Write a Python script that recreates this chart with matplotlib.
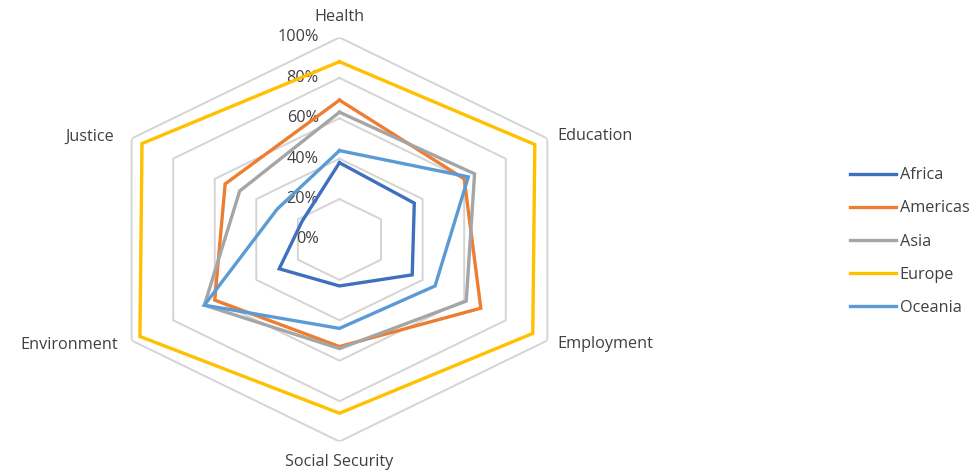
import matplotlib.pyplot as plt
import numpy as np

# categories clockwise from the top
categories = ['Health', 'Education', 'Employment', 'Social Security', 'Environment', 'Justice']
ring_vals = [0, 20, 40, 60, 80, 100]
ring_labels = ['0%', '20%', '40%', '60%', '80%', '100%']

africa = [38, 36, 35, 23, 29, 18]
americas = [69, 60, 68, 53, 60, 55]
asia = [63, 65, 61, 54, 65, 48]
europe = [88, 94, 93, 86, 96, 95]
oceania = [44, 62, 46, 44, 65, 30]

series = ['Africa', 'Americas', 'Asia', 'Europe', 'Oceania']
colors = ['#3F6FBF', '#ED7D31', '#A5A5A5', '#FFC000', '#5B9BD5']

plt.rcParams['font.family'] = ['Open Sans', 'DejaVu Sans']
txt_col = '#404040'
fs = 11.7

fig = plt.figure(figsize=(9.79, 4.72), dpi=100)
ax = fig.add_axes([0.1016, 0.0646, 0.4903, 0.856], projection='polar')
ax.set_aspect('auto')
ax.set_theta_zero_location('N')
ax.set_theta_direction(-1)
ax.grid(False)
ax.spines['polar'].set_visible(False)
ax.patch.set_visible(False)
ax.set_xticks([])
ax.set_yticks([])
ax.set_ylim(0, 100)

angles = np.linspace(0, 2 * np.pi, len(categories), endpoint=False)
closed = np.append(angles, angles[0])

# hexagon grid
for r in ring_vals[1:]:
    ax.plot(closed, [r] * len(closed), color='#D4D4D4', lw=1.4, zorder=1)

for name, vals, col in zip(series, [africa, americas, asia, europe, oceania], colors):
    ax.plot(closed, vals + vals[:1], color=col, lw=2.4, label=name,
            solid_joinstyle='miter', zorder=3)

# value labels left of the top spoke
for r, lbl in zip(ring_vals, ring_labels):
    ax.annotate(lbl, xy=(0, r), xytext=(-15, 0), textcoords='offset points',
                ha='right', va='center', fontsize=fs, color=txt_col, zorder=2)

# category labels
offs = [(0, 15, 'center'), (7, 2, 'left'), (7, -2.7, 'left'),
        (0, -15, 'center'), (-10, -3, 'right'), (-12.5, 1.5, 'right')]
for a, cat, (dx, dy, ha) in zip(angles, categories, offs):
    ax.annotate(cat, xy=(a, 100), xytext=(dx, dy), textcoords='offset points',
                ha=ha, va='center', fontsize=fs, color=txt_col)

leg = ax.legend(loc='center left', bbox_to_anchor=(850 / 979, (472 - 241.5) / 472),
                bbox_transform=fig.transFigure, frameon=False, fontsize=fs,
                handlelength=2.85, handletextpad=0.2, labelspacing=1.05,
                borderpad=0, borderaxespad=0)
for t in leg.get_texts():
    t.set_color(txt_col)

fig.savefig('out.png', dpi=100)
